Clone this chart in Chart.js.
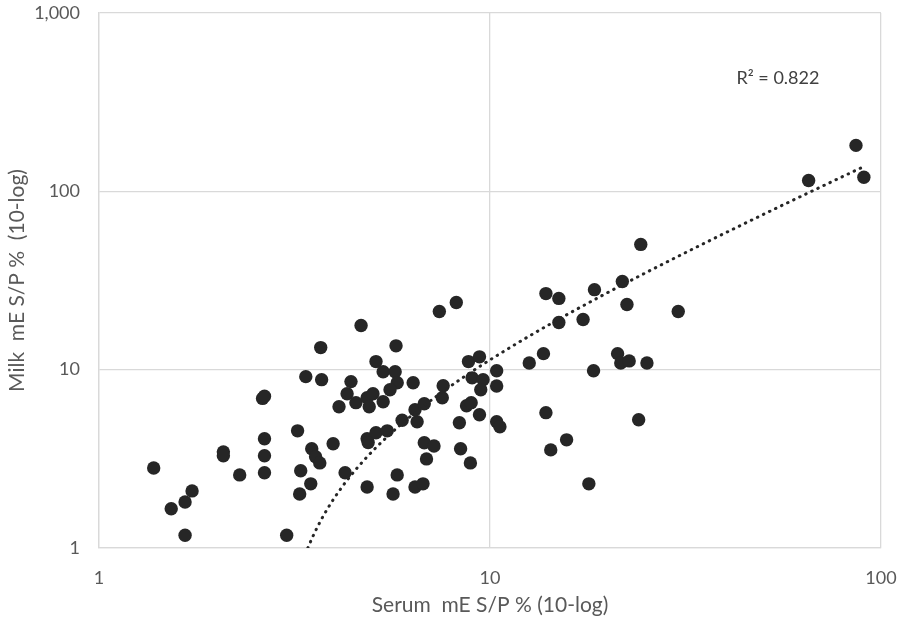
<!DOCTYPE html>
<html>
<head>
<meta charset="utf-8">
<script src="https://cdn.jsdelivr.net/npm/chart.js@4.4.1/dist/chart.umd.min.js"></script>
<style>
  html, body { margin: 0; padding: 0; background: #fff; }
</style>
</head>
<body>
<canvas id="milkSerum" width="898" height="624"></canvas>
<script>
// values (serum vs milk, both S/P %)
const serum = [
  1.38, 1.53, 1.66, 1.73, 1.66, 2.08, 2.08, 2.29, 2.62, 2.65,
  2.65, 2.65, 2.65, 3.02, 3.22, 3.28, 3.26, 3.48, 3.50, 3.58,
  3.67, 3.69, 3.38, 3.71, 3.97, 4.26, 4.68, 5.75, 5.11, 5.33,
  5.72, 5.79, 5.55, 6.36, 4.41, 4.31, 4.11, 4.54, 4.85, 5.02,
  4.91, 5.33, 5.96, 6.51, 6.43, 6.79, 7.55, 7.59, 8.35, 8.71,
  8.95, 9.40, 8.81, 9.40, 9.00, 9.60, 9.47, 10.4, 10.4, 10.4,
  10.6, 4.85, 5.11, 5.46, 4.88, 4.85, 5.79, 5.65, 6.43, 6.74,
  6.79, 7.19, 6.88, 8.41, 8.91, 8.20, 7.42,
  24.3, 13.9, 15.0, 18.5, 21.8, 22.4, 30.3, 15.0, 17.3, 13.7,
  12.6, 13.9, 15.7, 14.3, 17.9, 18.4, 21.2, 21.6, 22.7, 25.2,
  24.0, 65.3, 86.3, 90.4
];
const milk = [
  2.81, 1.66, 1.81, 2.09, 1.18, 3.46, 3.29, 2.57, 6.90, 7.10,
  4.10, 3.29, 2.64, 1.18, 4.54, 2.71, 2.01, 2.29, 3.60, 3.25,
  3.00, 13.3, 9.14, 8.79, 3.84, 2.64, 17.7, 13.6, 11.1, 9.74,
  9.74, 8.45, 7.72, 8.45, 8.57, 7.33, 6.19, 6.53, 6.96, 7.33,
  6.19, 6.61, 5.20, 5.10, 5.96, 6.44, 6.96, 8.13, 5.04, 6.27,
  6.53, 5.59, 11.1, 11.8, 9.00, 8.79, 7.72, 9.87, 8.10, 5.10,
  4.78, 4.10, 4.43, 4.54, 3.90, 2.20, 2.57, 2.01, 2.20, 2.29,
  3.89, 3.73, 3.16, 3.60, 3.00, 23.8, 21.2,
  50.4, 26.7, 25.1, 28.1, 31.2, 23.2, 21.2, 18.4, 19.1, 12.3,
  10.9, 5.74, 4.04, 3.55, 2.29, 9.87, 12.3, 10.9, 11.2, 10.9,
  5.24, 115, 181, 120
];
const xTicks = [1, 10, 100];
const yTicks = [1, 10, 100, 1000];
const rSquared = '0.822';

const points = serum.map((s, i) => ({ x: s, y: milk[i] }));

// linear trendline fitted on the raw values (Excel style), shown on log axes
let n = points.length, sx = 0, sy = 0, sxx = 0, sxy = 0;
points.forEach(p => { sx += p.x; sy += p.y; sxx += p.x * p.x; sxy += p.x * p.y; });
const slope = (n * sxy - sx * sy) / (n * sxx - sx * sx);
const intercept = (sy - slope * sx) / n;
const xMax = Math.max(...serum);
const xStart = Math.max(Math.min(...serum), (1 - intercept) / slope);
const trend = [];
for (let i = 0; i <= 150; i++) {
  const x = xStart * Math.pow(xMax / xStart, i / 150);
  trend.push({ x: x, y: slope * x + intercept });
}

const labelFont = { family: 'Lato', size: 18 };
const titleFont = { family: 'Lato', size: 21 };
const gridColor = '#d9d9d9';

const r2Label = {
  id: 'r2Label',
  afterDatasetsDraw(chart) {
    const { ctx, scales } = chart;
    ctx.save();
    ctx.font = '18px Lato';
    ctx.fillStyle = '#404040';
    ctx.textAlign = 'center';
    ctx.textBaseline = 'middle';
    ctx.fillText('R\u00b2 = ' + rSquared, scales.x.getPixelForValue(54.5), scales.y.getPixelForValue(430));
    ctx.restore();
  }
};

const ctx = document.getElementById('milkSerum').getContext('2d');
const chart = new Chart(ctx, {
  type: 'scatter',
  data: {
    datasets: [
      {
        label: 'trend',
        type: 'line',
        data: trend,
        borderColor: '#262626',
        borderWidth: 3,
        borderDash: [0.5, 6.2],
        borderCapStyle: 'round',
        pointRadius: 0,
        fill: false,
        order: 0
      },
      {
        label: 'samples',
        data: points,
        backgroundColor: '#262626',
        borderWidth: 0,
        pointRadius: 6.7,
        pointHoverRadius: 6.7,
        order: 1
      }
    ]
  },
  options: {
    responsive: false,
    animation: false,
    devicePixelRatio: 1,
    layout: { padding: { top: 13, right: 17, left: 0, bottom: 0 } },
    plugins: { legend: { display: false }, tooltip: { enabled: false } },
    scales: {
      x: {
        type: 'logarithmic',
        min: 1,
        max: 100,
        afterFit: s => { s.height = 76; s.paddingLeft = 0; s.paddingRight = 0; },
        afterBuildTicks: s => { s.ticks = xTicks.map(v => ({ value: v })); },
        grid: { color: gridColor, lineWidth: 1.3, drawTicks: false },
        border: { color: gridColor, width: 1.3 },
        ticks: {
          color: '#595959', font: labelFont, padding: 19, maxRotation: 0,
          callback: v => v.toLocaleString('en-US')
        },
        title: {
          display: true, text: 'Serum  mE S/P % (10-log)',
          color: '#595959', font: titleFont, padding: { top: 0, bottom: 6 }
        }
      },
      y: {
        type: 'logarithmic',
        min: 1,
        max: 1000,
        afterFit: s => { s.width = 99; s.paddingTop = 0; s.paddingBottom = 0; },
        afterBuildTicks: s => { s.ticks = yTicks.map(v => ({ value: v })); },
        grid: { color: gridColor, lineWidth: 1.3, drawTicks: false },
        border: { color: gridColor, width: 1.3 },
        ticks: {
          color: '#595959', font: labelFont, padding: 19,
          callback: v => v.toLocaleString('en-US')
        },
        title: {
          display: true, text: 'Milk  mE S/P %  (10-log)',
          color: '#595959', font: titleFont, padding: { top: 5, bottom: 0 }
        }
      }
    }
  },
  plugins: [r2Label]
});
</script>
</body>
</html>
